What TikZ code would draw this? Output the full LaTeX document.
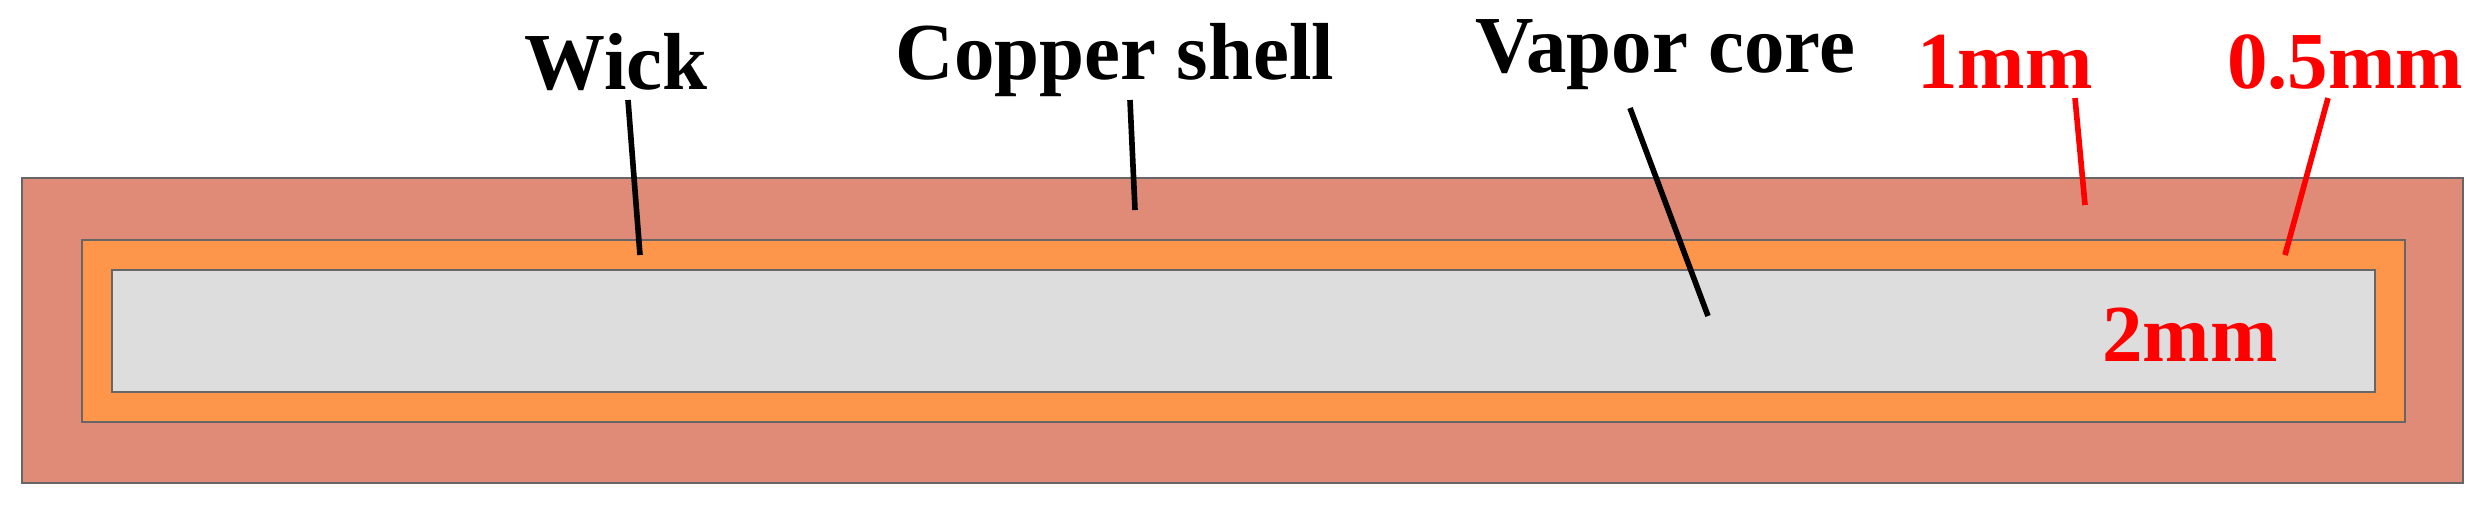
\documentclass[tikz,border=0pt]{standalone}
\usepackage{fontspec}
\setmainfont{Liberation Serif}
\begin{document}
\begin{tikzpicture}[x=0.01cm,y=-0.01cm,
  lbl/.style={font=\fontsize{23}{27}\selectfont\bfseries,inner sep=0pt},
  lead/.style={line width=1.6pt},
  box/.style={draw=gray!80!black,line width=0.8pt}]
\useasboundingbox (0,0) rectangle (2482,505);
\fill[box,fill={rgb,255:red,224;green,138;blue,120}] (22,178) rectangle (2463,483);
\fill[box,fill={rgb,255:red,253;green,150;blue,75}] (82,240) rectangle (2405,422);
\fill[box,fill={rgb,255:red,221;green,221;blue,221}] (112,270) rectangle (2375,392);
\node[lbl] (wick) at (616,62) {Wick};
\node[lbl] (cu) at (1115,60) {Copper shell};
\node[lbl] (vap) at (1665,55) {Vapor core};
\node[lbl,red] (m1) at (2005,62) {1mm};
\node[lbl,red] (m05) at (2345,62) {0.5mm};
\node[lbl,red] (m2) at (2190,335) {2mm};
\coordinate (pw) at (640,255);
\coordinate (pc) at (1135,210);
\coordinate (pv) at (1708,316);
\coordinate (p1) at (2085,205);
\coordinate (p05) at (2285,255);
\draw[lead] (628,100) -- (pw);
\draw[lead] (1130,100) -- (pc);
\draw[lead] (1630,108) -- (pv);
\draw[lead,red] (2075,98) -- (p1);
\draw[lead,red] (2328,98) -- (p05);
\end{tikzpicture}
\end{document}
